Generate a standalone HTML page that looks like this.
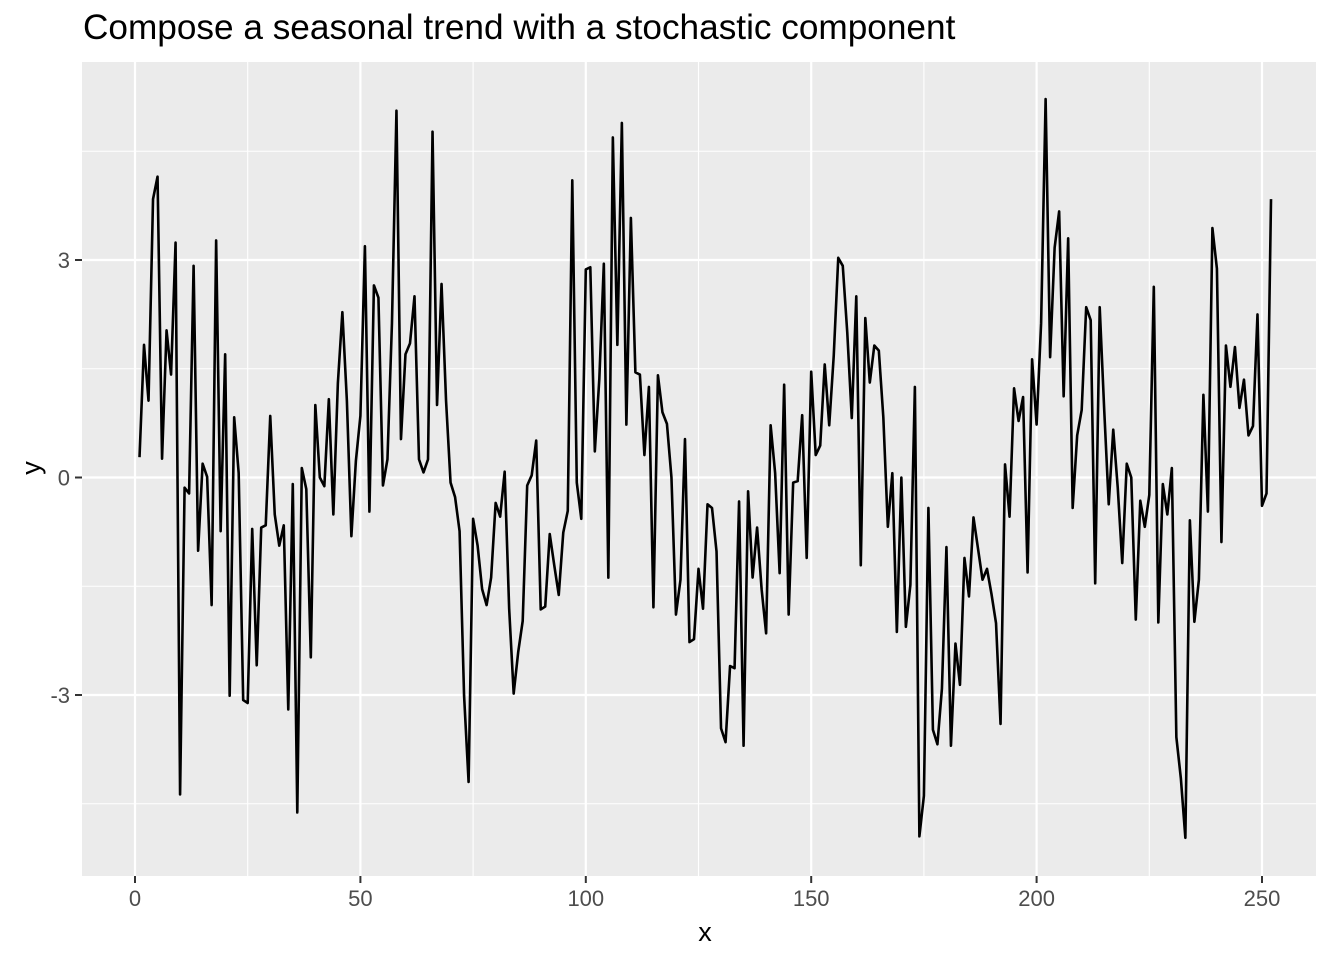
<!DOCTYPE html>
<html><head><meta charset="utf-8"><style>
body{margin:0;background:#fff;}
svg{display:block;font-family:"Liberation Sans",Arial,sans-serif;}
</style></head><body>
<svg id="chart" width="1344" height="960">
<rect x="82" y="62" width="1234" height="814" fill="#ebebeb"/>
<text x="83" y="39" font-size="35.2" fill="#000">Compose a seasonal trend with a stochastic component</text>
<g id="grid"></g>
<g id="ticks"></g>
<path id="line" fill="none" stroke="#000" stroke-width="2.6" stroke-linejoin="round"/>
<text x="705" y="941" font-size="27" text-anchor="middle" fill="#000">x</text>
<text x="0" y="0" font-size="27" text-anchor="middle" fill="#000" transform="translate(40,468) rotate(-90)">y</text>
</svg>
<script>
const yValues = [0.28,1.83,1.06,3.84,4.15,0.26,2.03,1.42,3.24,-4.37,-0.14,-0.22,2.92,-1.01,0.19,0.01,-1.76,3.27,-0.74,1.70,-3.01,0.83,0.06,-3.07,-3.11,-0.71,-2.59,-0.69,-0.66,0.85,-0.51,-0.94,-0.66,-3.20,-0.09,-4.62,0.13,-0.16,-2.48,1.00,0,-0.12,1.08,-0.51,1.30,2.28,1.06,-0.81,0.23,0.85,3.19,-0.47,2.65,2.48,-0.11,0.25,2.13,5.06,0.53,1.70,1.85,2.50,0.25,0.07,0.25,4.77,1.00,2.67,1.06,-0.07,-0.27,-0.74,-3.01,-4.20,-0.57,-0.94,-1.54,-1.76,-1.38,-0.35,-0.54,0.08,-1.81,-2.98,-2.41,-1.98,-0.11,0.03,0.51,-1.82,-1.78,-0.78,-1.21,-1.62,-0.76,-0.46,4.10,-0.07,-0.57,2.87,2.90,0.36,1.36,2.95,-1.38,4.69,1.83,4.89,0.73,3.58,1.45,1.42,0.31,1.25,-1.79,1.41,0.90,0.74,0,-1.89,-1.41,0.53,-2.27,-2.23,-1.26,-1.81,-0.37,-0.42,-1.02,-3.46,-3.65,-2.60,-2.63,-0.33,-3.70,-0.19,-1.38,-0.69,-1.54,-2.15,0.72,0.06,-1.32,1.28,-1.89,-0.07,-0.05,0.86,-1.11,1.46,0.31,0.44,1.56,0.72,1.68,3.03,2.92,2.00,0.82,2.50,-1.21,2.20,1.31,1.82,1.75,0.83,-0.68,0.06,-2.13,0,-2.06,-1.48,1.25,-4.95,-4.39,-0.42,-3.48,-3.68,-2.91,-0.96,-3.70,-2.29,-2.86,-1.11,-1.64,-0.55,-0.98,-1.41,-1.26,-1.61,-2.01,-3.40,0.18,-0.54,1.23,0.78,1.11,-1.31,1.63,0.73,2.13,5.22,1.66,3.17,3.67,1.12,3.30,-0.42,0.58,0.93,2.35,2.17,-1.46,2.35,0.93,-0.37,0.66,-0.14,-1.18,0.19,0,-1.96,-0.32,-0.68,-0.24,2.63,-2.00,-0.09,-0.51,0.13,-3.58,-4.15,-4.97,-0.59,-1.99,-1.41,1.14,-0.47,3.44,2.88,-0.89,1.82,1.25,1.80,0.96,1.35,0.58,0.71,2.25,-0.39,-0.22,3.84];
const xTicks = [0,50,100,150,200,250];
const xMinor = [25,75,125,175,225];
const yTicks = [-3,0,3];
const yMinor = [-4.5,-1.5,1.5,4.5];
const NS="http://www.w3.org/2000/svg";
const sx = v => 135 + v*(1127/250);
const sy = v => 477.5 - v*72.5;
const grid = document.getElementById('grid');
const ticks = document.getElementById('ticks');
function ln(x1,y1,x2,y2,w,c,parent){const l=document.createElementNS(NS,'line');l.setAttribute('x1',x1);l.setAttribute('y1',y1);l.setAttribute('x2',x2);l.setAttribute('y2',y2);l.setAttribute('stroke',c);l.setAttribute('stroke-width',w);parent.appendChild(l);return l;}
yMinor.forEach(v=>{const l=ln(82,sy(v),1316,sy(v),1.1,'#fff',grid);

});
xMinor.forEach(v=>{const l=ln(sx(v),62,sx(v),876,1.1,'#fff',grid);

});
yTicks.forEach(v=>{const l=ln(82,sy(v),1316,sy(v),2.2,'#fff',grid);


const t=ln(75,sy(v),82,sy(v),2,'#333',ticks);


const tx=document.createElementNS(NS,'text');tx.setAttribute('x',70);tx.setAttribute('y',sy(v)+8);tx.setAttribute('text-anchor','end');tx.setAttribute('font-size','22');tx.setAttribute('fill','#4d4d4d');tx.textContent=v;


ticks.appendChild(tx);});
xTicks.forEach(v=>{const l=ln(sx(v),62,sx(v),876,2.2,'#fff',grid);


const t=ln(sx(v),876,sx(v),883,2,'#333',ticks);


const tx=document.createElementNS(NS,'text');tx.setAttribute('x',sx(v));tx.setAttribute('y',906);tx.setAttribute('text-anchor','middle');tx.setAttribute('font-size','22');tx.setAttribute('fill','#4d4d4d');tx.textContent=v;


ticks.appendChild(tx);});
document.getElementById('line').setAttribute('d', yValues.map((v,i)=>(i?'L':'M')+sx(i+1).toFixed(2)+','+sy(v).toFixed(2)).join(''));
</script>
</body></html>
